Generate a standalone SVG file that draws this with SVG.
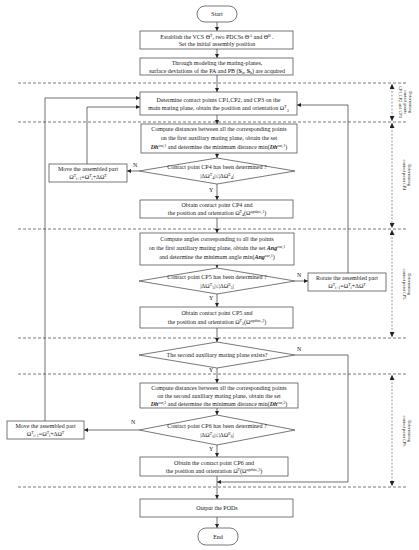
<svg xmlns="http://www.w3.org/2000/svg" width="419" height="550" viewBox="0 0 419 550">
<defs>
<marker id="ah" viewBox="0 0 10 10" refX="10" refY="5" markerWidth="4" markerHeight="4" markerUnits="userSpaceOnUse" orient="auto"><path d="M0,0 L10,5 L0,10 z" fill="#222"/></marker>
<marker id="dh" viewBox="0 0 10 10" refX="10" refY="5" markerWidth="5" markerHeight="5" markerUnits="userSpaceOnUse" orient="auto-start-reverse"><path d="M0,0 L10,5 L0,10 z" fill="#222"/></marker>
<style>
text{font-family:"Liberation Serif","Times New Roman",serif;font-size:6px;fill:#222}
.c{text-anchor:middle}
.box{fill:#fff;stroke:#555;stroke-width:0.8}
.ar{fill:none;stroke:#333;stroke-width:0.7;marker-end:url(#ah)}
.dash{fill:none;stroke:#555;stroke-width:0.8;stroke-dasharray:3,2}
.dv{fill:none;stroke:#555;stroke-width:0.6;stroke-dasharray:2,1.5;marker-start:url(#dh);marker-end:url(#dh)}
.lab{font-size:4.3px}
.s{font-size:4px}
.b{font-weight:bold;font-style:italic}
</style>
</defs>

<g id="sections">
<line class="dash" x1="18" y1="83" x2="408" y2="83"/>
<line class="dash" x1="18" y1="122" x2="408" y2="122"/>
<line class="dash" x1="18" y1="229" x2="408" y2="229"/>
<line class="dash" x1="18" y1="338" x2="408" y2="338"/>
<line class="dash" x1="18" y1="374" x2="408" y2="374"/>
<line class="dash" x1="18" y1="487" x2="408" y2="487"/>
<line class="dv" x1="392" y1="84" x2="392" y2="121"/>
<line class="dv" x1="392" y1="123" x2="392" y2="228"/>
<line class="dv" x1="392" y1="230" x2="392" y2="337"/>
<line class="dv" x1="392" y1="375" x2="392" y2="486"/>
<text class="lab c" transform="translate(409,102) rotate(90)">Determining<tspan x="0" dy="4.8">contact points</tspan><tspan x="0" dy="4.8">CP1,CP2 and CP3</tspan></text>
<text class="lab c" transform="translate(408,175) rotate(90)">Determining<tspan x="0" dy="5">contact point  CP4</tspan></text>
<text class="lab c" transform="translate(408,284) rotate(90)">Determining<tspan x="0" dy="5">contact point  CP5</tspan></text>
<text class="lab c" transform="translate(408,431) rotate(90)">Determining<tspan x="0" dy="5">contact point  CP6</tspan></text>
</g>

<g id="connectors">
<line class="ar" x1="217" y1="22" x2="217" y2="31"/>
<line class="ar" x1="217" y1="49" x2="217" y2="58"/>
<line class="ar" x1="217" y1="75" x2="217" y2="92"/>
<line class="ar" x1="217" y1="115" x2="217" y2="124"/>
<line class="ar" x1="217" y1="153" x2="217" y2="158"/>
<line class="ar" x1="139" y1="171" x2="127" y2="171"/>
<polyline class="ar" points="87,164 87,107 140,107"/>
<line class="ar" x1="217" y1="184" x2="217" y2="200"/>
<line class="ar" x1="217" y1="218" x2="217" y2="233"/>
<line class="ar" x1="217" y1="265" x2="217" y2="268"/>
<line class="ar" x1="295" y1="281" x2="308" y2="281"/>
<polyline class="ar" points="348,273 348,105 297,105"/>
<line class="ar" x1="217" y1="294" x2="217" y2="307"/>
<line class="ar" x1="217" y1="328" x2="217" y2="342"/>
<polyline class="ar" points="295,355 348,355 348,482 217,482"/>
<line class="ar" x1="217" y1="368" x2="217" y2="383"/>
<line class="ar" x1="217" y1="408" x2="217" y2="415"/>
<line class="ar" x1="139" y1="430" x2="84" y2="430"/>
<polyline class="ar" points="45,421 45,98 140,98"/>
<line class="ar" x1="217" y1="445" x2="217" y2="457"/>
<line class="ar" x1="217" y1="476" x2="217" y2="499"/>
<line class="ar" x1="217" y1="517" x2="217" y2="528"/>
<text x="133" y="167">N</text>
<text x="209" y="192">Y</text>
<text x="297" y="277">N</text>
<text x="209" y="300">Y</text>
<text x="297" y="351">N</text>
<text x="209" y="372">Y</text>
<text x="131" y="424">N</text>
<text x="209" y="451">Y</text>
</g>

<g id="start"><rect class="box" x="197" y="6" width="40" height="16" rx="8"/><text class="c" x="217" y="16">Start</text></g>

<g id="establish"><rect class="box" x="140" y="31" width="153" height="18"/>
<text class="c" x="217" y="38.5">Establish the VCS Θ<tspan class="s" dy="-2">T</tspan><tspan dy="2">, two PDCSs Θ</tspan><tspan class="s" dy="-2">A</tspan><tspan dy="2"> and  Θ</tspan><tspan class="s" dy="-2">B</tspan><tspan dy="2"> .</tspan></text>
<text class="c" x="217" y="46">Set the initial assembly position</text></g>

<g id="modeling"><rect class="box" x="140" y="58" width="153" height="17"/>
<text class="c" x="217" y="65">Through modeling the mating-planes,</text>
<text class="c" x="217" y="72.5">surface deviations of the PA and PB (<tspan font-weight="bold">S</tspan><tspan class="s" dy="1">a</tspan><tspan dy="-1">, </tspan><tspan font-weight="bold">S</tspan><tspan class="s" dy="1">b</tspan><tspan dy="-1">) are acquired</tspan></text></g>

<g id="cp123"><rect class="box" x="140" y="92" width="157" height="23"/>
<text class="c" x="218.5" y="101.5">Determine contact points CP1,CP2, and CP3 on the</text>
<text class="c" x="218.5" y="110">main mating plane, obtain the position and orientation Ω<tspan class="s" dy="-2">T</tspan><tspan class="s" dy="3.5">3</tspan></text></g>

<g id="dist1"><rect class="box" x="141" y="124" width="156" height="29"/>
<text class="c" x="219" y="131">Compute distances between all the corresponding points</text>
<text class="c" x="219" y="140">on the first auxiliary mating plane, obtain the set</text>
<text class="c" x="219" y="149"><tspan class="b">Dh</tspan><tspan class="s" dy="-2">cur,1</tspan><tspan dy="2"> and determine the minimum distance min(</tspan><tspan class="b">Dh</tspan><tspan class="s" dy="-2">cur,1</tspan><tspan dy="2">)</tspan></text></g>

<g id="cp4q"><polygon class="box" points="217,158 295,171 217,184 139,171"/>
<text class="c" x="217" y="168.5">Contact point CP4 has been determined ?</text>
<text class="c" x="217" y="178">|ΔΩ<tspan class="s" dy="-1.6">T</tspan><tspan class="s" dy="2.8">4</tspan><tspan dy="-1.2">|≤|ΔΩ</tspan><tspan class="s" dy="-1.6">E</tspan><tspan class="s" dy="2.8">4</tspan><tspan dy="-1.2">|</tspan></text></g>

<g id="move1"><rect class="box" x="49" y="164" width="78" height="18"/>
<text class="c" x="88" y="171">Move the assembled part</text>
<text class="c" x="88" y="179">Ω<tspan class="s" dy="-2">T</tspan><tspan class="s" dy="3.2">i+1</tspan><tspan dy="-1.2">=Ω</tspan><tspan class="s" dy="-2">T</tspan><tspan class="s" dy="3.2">i</tspan><tspan dy="-1.2">+ΔΩ</tspan><tspan class="s" dy="-2">T</tspan></text></g>

<g id="cp4"><rect class="box" x="140" y="200" width="153" height="18"/>
<text class="c" x="217" y="207">Obtain contact point CP4 and</text>
<text class="c" x="217" y="215">the position and orientation Ω<tspan class="s" dy="-2">T</tspan><tspan class="s" dy="3.2">4</tspan><tspan dy="-1.2">(Ω</tspan><tspan class="s" dy="-2">update,1</tspan><tspan dy="2">)</tspan></text></g>

<g id="ang"><rect class="box" x="140" y="233" width="154" height="32"/>
<text class="c" x="217" y="241">Compute angles corresponding to all the points</text>
<text class="c" x="217" y="250">on the first auxiliary mating plane, obtain the set <tspan class="b">Ang</tspan><tspan class="s" dy="-2">cur,1</tspan></text>
<text class="c" x="217" y="259">and determine the minimum angle min(<tspan class="b">Ang</tspan><tspan class="s" dy="-2">cur,1</tspan><tspan dy="2">)</tspan></text></g>

<g id="cp5q"><polygon class="box" points="217,268 295,281 217,294 139,281"/>
<text class="c" x="217" y="278.5">Contact point CP5 has been determined ?</text>
<text class="c" x="217" y="288">|ΔΩ<tspan class="s" dy="-1.6">T</tspan><tspan class="s" dy="2.8">5</tspan><tspan dy="-1.2">|≤|ΔΩ</tspan><tspan class="s" dy="-1.6">E</tspan><tspan class="s" dy="2.8">5</tspan><tspan dy="-1.2">|</tspan></text></g>

<g id="rotate"><rect class="box" x="308" y="273" width="78" height="18"/>
<text class="c" x="347" y="280">Rotate the assembled part</text>
<text class="c" x="347" y="288">Ω<tspan class="s" dy="-2">T</tspan><tspan class="s" dy="3.2">i+1</tspan><tspan dy="-1.2">=Ω</tspan><tspan class="s" dy="-2">T</tspan><tspan class="s" dy="3.2">i</tspan><tspan dy="-1.2">+ΔΩ</tspan><tspan class="s" dy="-2">T</tspan></text></g>

<g id="cp5"><rect class="box" x="140" y="307" width="153" height="21"/>
<text class="c" x="217" y="315">Obtain contact point CP5 and</text>
<text class="c" x="217" y="324">the position and orientation Ω<tspan class="s" dy="-2">T</tspan><tspan class="s" dy="3.2">5</tspan><tspan dy="-1.2">(Ω</tspan><tspan class="s" dy="-2">update,2</tspan><tspan dy="2">)</tspan></text></g>

<g id="second"><polygon class="box" points="217,342 295,355 217,368 139,355"/>
<text class="c" x="217" y="357">The second auxiliary mating plane exists?</text></g>

<g id="dist2"><rect class="box" x="140" y="383" width="158" height="25"/>
<text class="c" x="219" y="390">Compute distances between all the corresponding points</text>
<text class="c" x="219" y="398">on the second auxiliary mating plane, obtain the set</text>
<text class="c" x="219" y="406"><tspan class="b">Dh</tspan><tspan class="s" dy="-2">cur,2</tspan><tspan dy="2"> and determine the minimum distance min(</tspan><tspan class="b">Dh</tspan><tspan class="s" dy="-2">cur,2</tspan><tspan dy="2">)</tspan></text></g>

<g id="cp6q"><polygon class="box" points="217,415 295,430 217,445 139,430"/>
<text class="c" x="217" y="427.5">Contact point CP6  has been determined ?</text>
<text class="c" x="217" y="437">|ΔΩ<tspan class="s" dy="-1.6">T</tspan><tspan class="s" dy="2.8">6</tspan><tspan dy="-1.2">|≤|ΔΩ</tspan><tspan class="s" dy="-1.6">E</tspan><tspan class="s" dy="2.8">6</tspan><tspan dy="-1.2">|</tspan></text></g>

<g id="move2"><rect class="box" x="7" y="421" width="77" height="18"/>
<text class="c" x="45.5" y="428">Move the assembled part</text>
<text class="c" x="45.5" y="436">Ω<tspan class="s" dy="-2">T</tspan><tspan class="s" dy="3.2">i+1</tspan><tspan dy="-1.2">=Ω</tspan><tspan class="s" dy="-2">T</tspan><tspan class="s" dy="3.2">i</tspan><tspan dy="-1.2">+ΔΩ</tspan><tspan class="s" dy="-2">T</tspan></text></g>

<g id="cp6"><rect class="box" x="140" y="457" width="148" height="19"/>
<text class="c" x="214" y="464.5">Obtain the contact point CP6 and</text>
<text class="c" x="214" y="472.5">the position and orientation Ω<tspan class="s" dy="-2">T</tspan><tspan dy="2">(Ω</tspan><tspan class="s" dy="-2">update,3</tspan><tspan dy="2">)</tspan></text></g>

<g id="output"><rect class="box" x="140" y="499" width="153" height="18"/><text class="c" x="217" y="510">Output the PODs</text></g>

<g id="end"><rect class="box" x="198" y="528" width="40" height="17" rx="8"/><text class="c" x="218" y="538.5">End</text></g>
</svg>
